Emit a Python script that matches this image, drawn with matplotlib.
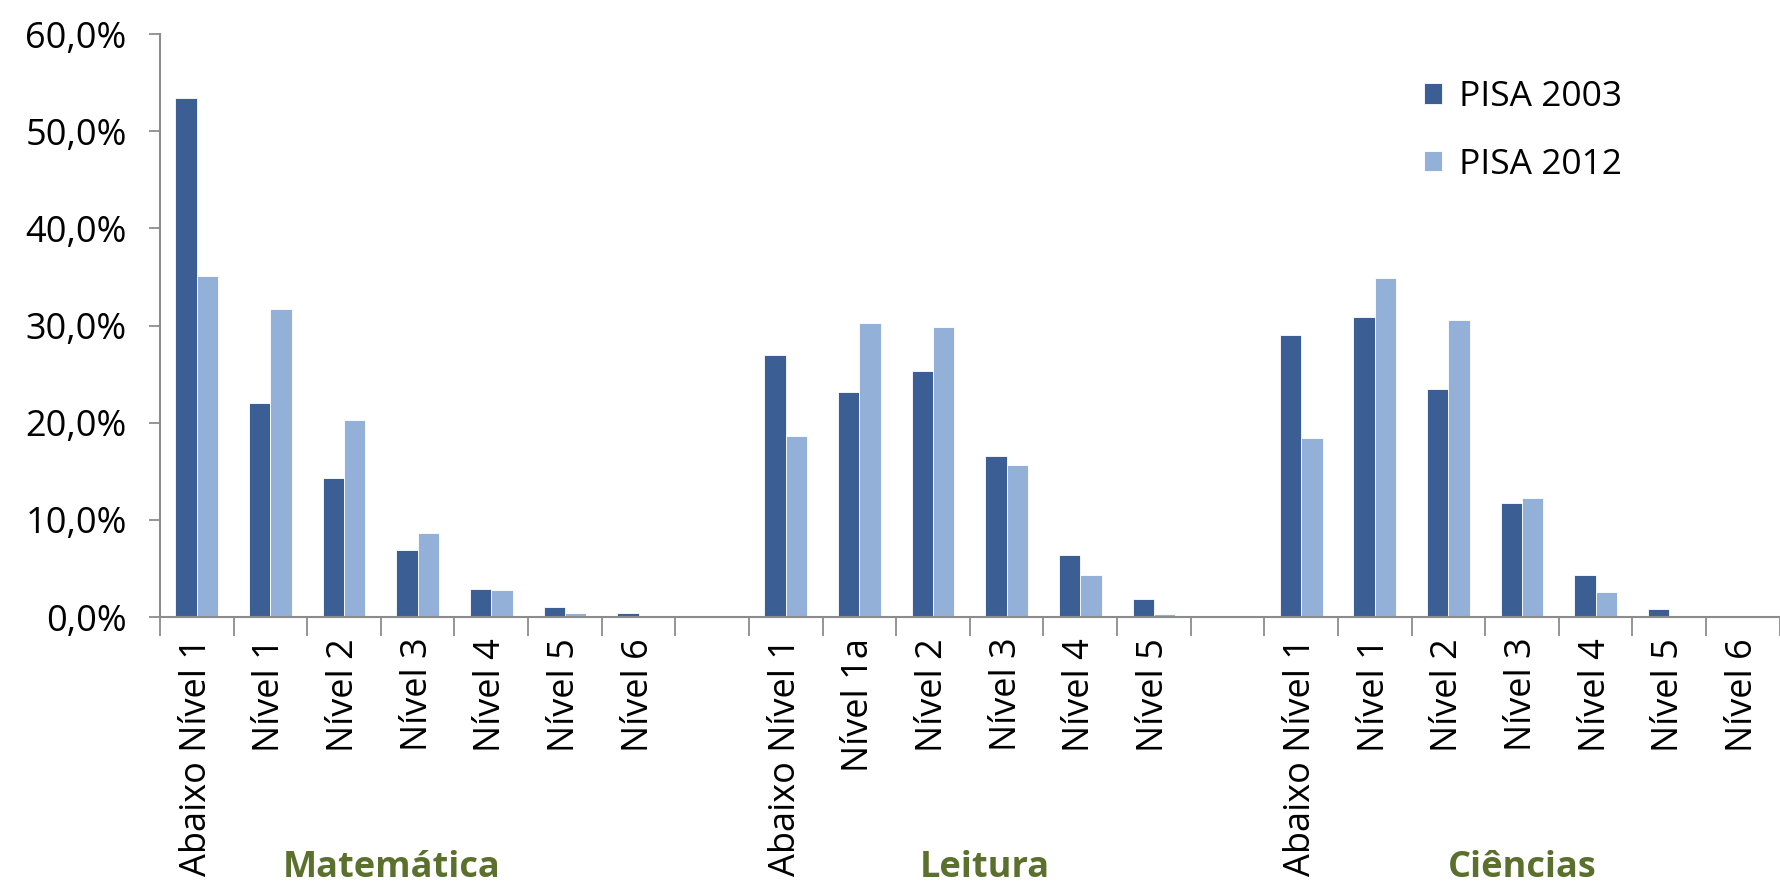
import matplotlib.pyplot as plt
import matplotlib.transforms as mtransforms
import numpy as np

plt.rcParams['font.family'] = ['Open Sans', 'DejaVu Sans']

subjects = ["Matemática", "Leitura", "Ciências"]
mat_levels = ["Abaixo Nível 1", "Nível 1", "Nível 2", "Nível 3", "Nível 4", "Nível 5", "Nível 6"]
lei_levels = ["Abaixo Nível 1", "Nível 1a", "Nível 2", "Nível 3", "Nível 4", "Nível 5"]
cie_levels = ["Abaixo Nível 1", "Nível 1", "Nível 2", "Nível 3", "Nível 4", "Nível 5", "Nível 6"]

# percentages
mat_2003 = [53.4, 22.0, 14.3, 6.9, 2.9, 1.0, 0.4]
mat_2012 = [35.1, 31.7, 20.3, 8.7, 2.8, 0.4, 0.0]
lei_2003 = [27.0, 23.2, 25.3, 16.6, 6.4, 1.9]
lei_2012 = [18.6, 30.3, 29.9, 15.6, 4.3, 0.3]
cie_2003 = [29.0, 30.9, 23.5, 11.7, 4.3, 0.8, 0.1]
cie_2012 = [18.4, 34.9, 30.6, 12.3, 2.6, 0.1, 0.0]

series_names = ["PISA 2003", "PISA 2012"]
c_dark = "#3B5F94"
c_light = "#93B1D8"

# one empty category between the subjects, like the original
labels = mat_levels + [""] + lei_levels + [""] + cie_levels
v2003 = mat_2003 + [np.nan] + lei_2003 + [np.nan] + cie_2003
v2012 = mat_2012 + [np.nan] + lei_2012 + [np.nan] + cie_2012
x = np.arange(len(labels))

fig = plt.figure(figsize=(17.81, 8.90), dpi=100)
ax = fig.add_axes([0.0898, 0.3067, 0.9095, 0.655])

w = 0.29
ax.bar(x - w / 2, v2003, w, color=c_dark, edgecolor="white", linewidth=0.6, label=series_names[0])
ax.bar(x + w / 2, v2012, w, color=c_light, edgecolor="white", linewidth=0.6, label=series_names[1])

ax.set_xlim(-0.5, len(labels) - 0.5)
ax.set_ylim(0, 60)
ax.set_yticks(np.arange(0, 61, 10))
ax.set_yticklabels([f"{v:.1f}%".replace(".", ",") for v in range(0, 61, 10)], fontsize=26)

ax.set_xticks(x)
ax.set_xticklabels(labels, rotation=90, fontsize=26, va="top")
ax.set_xticks(np.arange(-0.5, len(labels), 1), minor=True)
ax.tick_params(axis="x", which="major", length=0, pad=15)
ax.tick_params(axis="x", which="minor", length=14, width=1.3, color="#8C8C8C", direction="out")
ax.tick_params(axis="y", length=8, width=1.3, color="#8C8C8C", direction="out", pad=16)

for s in ["top", "right"]:
    ax.spines[s].set_visible(False)
for s in ["left", "bottom"]:
    ax.spines[s].set_color("#8C8C8C")
    ax.spines[s].set_linewidth(1.5)

# subject names under the category labels
group_x = [2.65, 10.7, 18.0]
trans = mtransforms.blended_transform_factory(ax.transData, fig.transFigure)
for name, gx in zip(subjects, group_x):
    ax.text(gx, 0.004, name, transform=trans, fontsize=26, fontweight="bold",
            color="#5B702C", ha="center", va="bottom")

leg = ax.legend(loc="upper left", bbox_to_anchor=(1424 / 1781, 1 - 80 / 890),
                bbox_transform=fig.transFigure, frameon=False, fontsize=25.5,
                handlelength=0.5, handleheight=0.5, handletextpad=0.5,
                labelspacing=0.95, borderpad=0, borderaxespad=0)

fig.savefig("out.png", dpi=100)
